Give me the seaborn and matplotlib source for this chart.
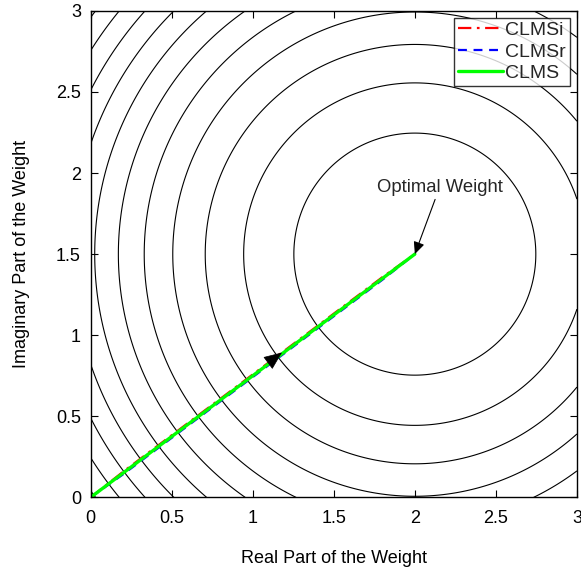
import numpy as np
import pandas as pd
import matplotlib
matplotlib.use("Agg")
import matplotlib.pyplot as plt
import seaborn as sns

# ---- data ----
w_opt_re = 2.0
w_opt_im = 1.5
cost_levels = [0.557, 1.115, 1.672, 2.23, 2.787, 3.345, 3.90, 4.46, 5.02, 5.575, 6.13]
x_ticks = [0, 0.5, 1, 1.5, 2, 2.5, 3]
y_ticks = [0, 0.5, 1, 1.5, 2, 2.5, 3]
tick_labels = ["0", "0.5", "1", "1.5", "2", "2.5", "3"]

path_re = [0.0, 0.2, 0.4, 0.6, 0.8, 1.0, 1.2, 1.4, 1.6, 1.8, 2.0]
clmsi_im = [0.0, 0.158, 0.308, 0.458, 0.608, 0.758, 0.908, 1.058, 1.208, 1.358, 1.5]
clmsr_im = [0.0, 0.142, 0.292, 0.442, 0.592, 0.742, 0.892, 1.042, 1.192, 1.342, 1.5]
clms_im = [0.0, 0.15, 0.30, 0.45, 0.60, 0.75, 0.90, 1.05, 1.20, 1.35, 1.5]

sns.set_theme(style="white")
plt.rcParams["font.family"] = ["Liberation Sans", "DejaVu Sans"]
plt.rcParams["font.size"] = 13

fig = plt.figure(figsize=(5.81, 5.73), dpi=100)
ax = fig.add_axes([0.156, 0.132, 0.837, 0.849])

# contours
g = np.linspace(0, 3, 500)
X, Y = np.meshgrid(g, g)
J = (X - w_opt_re) ** 2 + (Y - w_opt_im) ** 2
ax.contour(X, Y, J, levels=cost_levels, colors="black", linewidths=0.8)

df_i = pd.DataFrame({"re": path_re, "im": clmsi_im})
df_r = pd.DataFrame({"re": path_re, "im": clmsr_im})
df_c = pd.DataFrame({"re": path_re, "im": clms_im})

sns.lineplot(data=df_i, x="re", y="im", ax=ax, color="red", lw=1.6,
             linestyle=(0, (6, 2.5, 1.2, 2.5)), label="CLMSi", sort=False)
sns.lineplot(data=df_r, x="re", y="im", ax=ax, color="blue", lw=1.6,
             linestyle=(0, (4, 3)), label="CLMSr", sort=False)
sns.lineplot(data=df_c, x="re", y="im", ax=ax, color="#00ff00", lw=2.4,
             linestyle="-", label="CLMS", sort=False)

# direction arrow on path
ax.annotate("", xy=(1.18, 0.893), xytext=(1.10, 0.833),
            arrowprops=dict(arrowstyle="-|>,head_length=0.9,head_width=0.38",
                            color="black", lw=0.5, shrinkA=0, shrinkB=0))

# optimal weight annotation
ax.annotate("Optimal Weight", xy=(w_opt_re, w_opt_im), xytext=(2.152, 1.91),
            ha="center", va="center", fontsize=13.3,
            arrowprops=dict(arrowstyle="-|>,head_length=0.55,head_width=0.25",
                            color="black", lw=0.8, shrinkA=0, shrinkB=0))

ax.set_xlim(0, 3)
ax.set_ylim(0, 3)
ax.set_xticks(x_ticks)
ax.set_xticklabels(tick_labels)
ax.set_yticks(y_ticks)
ax.set_yticklabels(tick_labels)
ax.tick_params(direction="in", length=5, width=0.8, top=True, right=True,
               bottom=True, left=True, labelsize=13, colors="black")
ax.tick_params(axis="x", pad=9)
ax.tick_params(axis="y", pad=7)
for s in ax.spines.values():
    s.set_color("black")
    s.set_linewidth(1.0)

ax.set_xlabel("Real Part of the Weight", fontsize=13, labelpad=17, color="black")
ax.set_ylabel("Imaginary Part of the Weight", fontsize=13, labelpad=19, color="black")

leg = ax.legend(loc="upper right", fontsize=14, frameon=True, fancybox=False,
                borderaxespad=0.35, handlelength=2.3, handletextpad=0.15,
                labelspacing=0.2, borderpad=0.2)
leg.get_frame().set_edgecolor("black")
leg.get_frame().set_linewidth(1.0)

fig.savefig("out.png", dpi=100)
